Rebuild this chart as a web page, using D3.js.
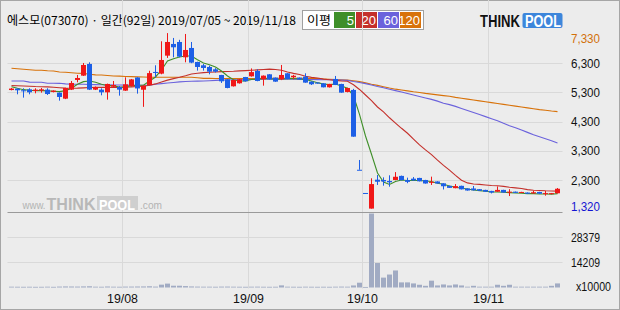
<!DOCTYPE html>
<html>
<head>
<meta charset="utf-8">
<script src="https://cdn.jsdelivr.net/npm/d3@7/dist/d3.min.js"></script>
<style>
  body { margin: 0; background: #ececec; }
  svg { display: block; }
</style>
</head>
<body>
<svg width="620" height="310"></svg>
<script>
// 92 trading days, 2019/07/05 ~ 2019/11/18
var days = [
  "07/05","07/08","07/09","07/10","07/11","07/12","07/15","07/16","07/17","07/18","07/19",
  "07/22","07/23","07/24","07/25","07/26","07/29","07/30","07/31",
  "08/01","08/02","08/05","08/06","08/07","08/08","08/09","08/12","08/13","08/14","08/16",
  "08/19","08/20","08/21","08/22","08/23","08/26","08/27","08/28","08/29","08/30",
  "09/02","09/03","09/04","09/05","09/06","09/09","09/10","09/11","09/16","09/17","09/18",
  "09/19","09/20","09/23","09/24","09/25","09/26","09/27","09/30",
  "10/01","10/02","10/04","10/07","10/08","10/10","10/11","10/14","10/15","10/16","10/17",
  "10/18","10/21","10/22","10/23","10/24","10/25","10/28","10/29","10/30","10/31",
  "11/01","11/04","11/05","11/06","11/07","11/08","11/11","11/12","11/13","11/14","11/15","11/18"
];

var open = [5380,5428,5371,5405,5348,5360,5394,5314,5290,5085,
  5394,5725,5873,6273,5394,5394,5302,5496,5485,5360,
  5515,5810,5390,5548,6000,5942,6558,6958,7026,6501,
  6821,6341,6227,6170,6090,5896,5748,5508,5611,5827,
  5850,6033,5748,5919,5805,5748,5953,5820,5805,5839,
  5668,5634,5611,5474,5759,5588,5314,5383,2650,1855,
  1320,2310,2300,2266,2300,2440,2295,2345,2370,2300,
  2222,2250,2186,2100,2020,2100,2010,2010,1985,1960,
  1925,1900,1960,1885,1900,1862,1870,1840,1890,1835,
  1815,1845];
var high = [5450,5440,5440,5440,5440,5450,5440,5370,5300,5460,
  5690,5896,6307,6330,5500,5440,5600,5690,5520,5816,
  5760,5820,5540,6040,6227,7049,7330,7164,7100,7300,
  7026,6350,6273,6216,6130,5900,5750,5730,5760,5830,
  6120,6090,5880,5925,5810,6239,5960,5900,5810,5953,
  5680,5650,5620,5595,5862,5595,5460,5420,2985,1855,
  2358,2470,2390,2460,2570,2450,2380,2400,2375,2305,
  2414,2255,2190,2105,2160,2105,2015,2094,1990,1965,
  1930,2080,1965,1985,1905,1895,1875,1930,1895,1923,
  1855,2025];
var low = [5370,5234,5120,5234,5268,5290,5211,5300,5017,5070,
  5380,5645,5860,5380,5380,5200,5051,5470,5188,5350,
  5500,5257,4805,5540,5816,5920,6479,6501,6500,6330,
  6300,6045,6045,5919,5980,5622,5440,5500,5600,5670,
  5840,5680,5530,5740,5660,5720,5750,5750,5740,5630,
  5554,5600,5470,5465,5550,5285,5300,3780,2650,1855,
  1320,2130,2105,2070,2290,2290,2190,2280,2250,2175,
  2129,2175,1975,2025,2015,1975,1935,1940,1925,1895,
  1840,1895,1865,1750,1855,1855,1825,1835,1825,1763,
  1810,1840];
var close = [5430,5371,5350,5302,5394,5405,5245,5360,5143,5450,
  5622,5793,6238,5394,5485,5302,5588,5554,5394,5576,
  5745,5435,5530,5960,5965,6410,7026,6844,6524,6752,
  6319,6170,6136,6010,6010,5679,5451,5725,5748,5679,
  5995,5691,5873,5748,5668,5896,5759,5870,5748,5634,
  5577,5611,5474,5588,5554,5291,5451,3784,2650,1855,
  2160,2240,2250,2220,2410,2295,2235,2285,2255,2180,
  2236,2180,2085,2030,2090,1980,1940,1945,1930,1900,
  1870,1960,1870,1900,1860,1890,1830,1880,1830,1850,
  1850,2000];
var volume = [450,420,400,420,380,400,450,380,520,600,
  560,520,620,700,450,420,560,450,420,500,
  520,560,600,700,500,1600,2200,1000,1000,800,
  600,500,450,450,420,500,520,450,420,400,
  450,480,420,400,420,1200,450,420,400,450,
  420,400,420,400,450,500,450,1150,2700,300,
  41700,13800,5570,7300,9600,2880,2880,2300,1550,950,
  3850,1150,1720,1150,1720,1150,450,950,450,450,
  450,1550,950,1550,450,450,450,450,450,450,
  950,2300];

// moving averages
var ma5 = [5495,5440,5393,5372,5360,5360,5350,5338,5325,5360,
  5440,5577,5667,5690,5645,5577,5530,5530,5475,5495,
  5530,5543,5543,5690,5828,6067,6376,6455,6512,6547,
  6547,6420,6307,6249,6170,6033,5862,5735,5690,5690,
  5742,5755,5770,5765,5750,5760,5770,5775,5760,5740,
  5690,5633,5588,5564,5588,5520,5440,5180,4546,3806,
  3180,2538,2232,2146,2250,2300,2283,2283,2283,2266,
  2250,2187,2153,2095,2050,2016,1992,1958,1934,1913,
  1889,1889,1879,1866,1855,1845,1832,1832,1821,1821,
  1810,1832];
var ma20 = [5530,5525,5520,5510,5500,5495,5490,5475,5460,5445,
  5440,5445,5455,5465,5470,5470,5470,5470,5472,5478,
  5490,5500,5510,5543,5590,5656,5720,5770,5817,5870,
  5930,5955,5975,5990,5999,6010,6015,6022,6035,6045,
  6057,6070,6085,6095,6085,6060,6000,5950,5910,5855,
  5815,5790,5755,5735,5710,5690,5680,5560,5400,5210,
  5020,4800,4630,4430,4250,4070,3900,3700,3500,3330,
  3170,2980,2800,2640,2460,2290,2200,2163,2150,2130,
  2110,2100,2080,2050,2030,2010,1970,1950,1940,1930,
  1925,1920];
var ma60 = [5690,5690,5688,5650,5648,5646,5612,5612,5610,5590,
  5580,5577,5577,5570,5565,5560,5560,5555,5555,5550,
  5545,5545,5545,5550,5580,5600,5622,5640,5660,5675,
  5680,5685,5690,5700,5712,5720,5725,5730,5735,5740,
  5742,5745,5748,5750,5750,5750,5750,5748,5745,5742,
  5740,5738,5735,5730,5725,5720,5710,5670,5640,5600,
  5550,5500,5460,5410,5360,5310,5260,5211,5160,5110,
  5060,5000,4930,4880,4820,4750,4680,4610,4540,4470,
  4400,4330,4240,4160,4090,4010,3930,3850,3780,3710,
  3640,3570];
var ma120 = [6126,6110,6092,6075,6060,6057,6040,6033,6000,5989,
  5970,5955,5950,5920,5900,5896,5880,5862,5855,5845,
  5838,5830,5825,5817,5817,5817,5817,5817,5817,5817,
  5817,5800,5780,5778,5776,5775,5775,5775,5775,5775,
  5775,5776,5778,5780,5783,5783,5783,5783,5783,5780,
  5775,5770,5760,5750,5740,5730,5720,5700,5668,5625,
  5580,5540,5495,5450,5410,5380,5350,5320,5295,5265,
  5240,5215,5190,5165,5130,5100,5070,5040,5010,4980,
  4950,4920,4890,4860,4830,4800,4770,4740,4710,4690,
  4660,4640];

var priceTicks = [7330, 6300, 5300, 4300, 3300, 2300, 1320];
var priceGrid = [6300, 5300, 4300, 3300, 2300];
var volTicks = [28379, 14209];
var monthDays = ["08/01", "09/02", "10/01", "11/01"];
var monthLabels = ["19/08", "19/09", "19/10", "19/11"];

var title = "에스모(073070) · 일간(92일) 2019/07/05 ~ 2019/11/18";
var maNames = ["5", "20", "60", "120"];
var maColors = ["#3f8f29", "#c4302b", "#6b62dc", "#d8720a"];
var upColor = "#f01818", downColor = "#1d5fe6";

var svg = d3.select("svg"),
    left = 7.5, right = 562.5, top = 30.5, bottom = 288.5, split = 212.5;

var x = d3.scaleBand().domain(days).range([8.5, 560.5]).paddingInner(1 / 6).paddingOuter(1 / 12);
var y = d3.scaleLinear().domain([1320, 7330]).range([208.6, 33.1]);
var yv = d3.scaleLinear().domain([0, 42568]).range([287.5, 212]);
var bw = x.bandwidth(), step = x.step();
var cx = function(i) { return x(days[i]) + bw / 2; };

// outer frame
svg.append("rect").attr("x", 0.5).attr("y", 0.5).attr("width", 619).attr("height", 309)
    .attr("fill", "#ececec").attr("stroke", "#a6a6a6");

// plot background
svg.append("rect").attr("x", left).attr("y", top)
    .attr("width", right - left).attr("height", bottom - top).attr("fill", "#fff");

// header title
svg.append("text").attr("x", 7).attr("y", 25)
    .attr("font-family", "'Noto Sans CJK KR', sans-serif").attr("font-size", 12)
    .attr("textLength", 289).attr("lengthAdjust", "spacingAndGlyphs")
    .attr("fill", "#000").text(title);

// legend box
var lg = svg.append("g");
lg.append("rect").attr("x", 302.5).attr("y", 10.5).attr("width", 121).attr("height", 19)
    .attr("fill", "#fff").attr("stroke", "#a0a0a0");
lg.append("text").attr("x", 307).attr("y", 25)
    .attr("font-family", "'Noto Sans CJK KR', sans-serif").attr("font-size", 12)
    .attr("textLength", 24).attr("lengthAdjust", "spacingAndGlyphs")
    .text("이평");
var lx = [334, 356, 378, 400];
maNames.forEach(function(n, k) {
  lg.append("rect").attr("x", lx[k]).attr("y", 12).attr("width", 21).attr("height", 16)
      .attr("fill", maColors[k]);
  lg.append("text").attr("x", lx[k] + 20).attr("y", 25)
      .attr("text-anchor", "end").attr("fill", "#fff")
      .attr("font-family", "'Liberation Sans', Arial, sans-serif").attr("font-size", 13)
      .text(n);
});

// THINKPOOL logo
svg.append("text").attr("x", 480).attr("y", 27)
    .attr("font-family", "'Liberation Sans', Arial, sans-serif").attr("font-weight", "bold")
    .attr("font-size", 16).attr("textLength", 40).attr("lengthAdjust", "spacingAndGlyphs")
    .attr("fill", "#111").text("THINK");
svg.append("rect").attr("x", 522.5).attr("y", 13).attr("width", 40).attr("height", 15)
    .attr("rx", 2).attr("fill", "#3d86db");
svg.append("text").attr("x", 525).attr("y", 27)
    .attr("font-family", "'Liberation Sans', Arial, sans-serif").attr("font-weight", "bold")
    .attr("font-size", 16).attr("textLength", 36).attr("lengthAdjust", "spacingAndGlyphs")
    .attr("fill", "#fff").text("POOL");

// grid
var grid = svg.append("g").attr("stroke", "#d9d9d9").attr("stroke-width", 1);
priceGrid.forEach(function(v) {
  var yy = Math.round(y(v)) + 0.5;
  grid.append("line").attr("x1", left).attr("x2", right).attr("y1", yy).attr("y2", yy);
});
volTicks.forEach(function(v) {
  var yy = Math.round(yv(v)) + 0.5;
  grid.append("line").attr("x1", left).attr("x2", right).attr("y1", yy).attr("y2", yy);
});
monthDays.forEach(function(d) {
  var xx = x(d) - step * (1 / 6) / 2;
  grid.append("line").attr("x1", xx).attr("x2", xx).attr("y1", top).attr("y2", bottom);
});

// watermark
var wm = svg.append("g").attr("font-family", "'Liberation Sans', Arial, sans-serif");
wm.append("text").attr("x", 22.5).attr("y", 209).attr("font-size", 11).attr("fill", "#b3b3b3")
    .attr("textLength", 23).attr("lengthAdjust", "spacingAndGlyphs").text("www.");
wm.append("text").attr("x", 46.5).attr("y", 209.5).attr("font-size", 16).attr("font-weight", "bold")
    .attr("fill", "#b8b8b8").attr("textLength", 49).attr("lengthAdjust", "spacingAndGlyphs").text("THINK");
wm.append("rect").attr("x", 97).attr("y", 196).attr("width", 41).attr("height", 14).attr("fill", "#cfcfcf");
wm.append("text").attr("x", 99).attr("y", 209.5).attr("font-size", 14).attr("font-weight", "bold")
    .attr("fill", "#fff").attr("textLength", 36).attr("lengthAdjust", "spacingAndGlyphs").text("POOL");
wm.append("text").attr("x", 140).attr("y", 209).attr("font-size", 11).attr("fill", "#b3b3b3")
    .attr("textLength", 22).attr("lengthAdjust", "spacingAndGlyphs").text(".com");

// panel borders
svg.append("rect").attr("x", left).attr("y", top).attr("width", right - left).attr("height", bottom - top)
    .attr("fill", "none").attr("stroke", "#9a9a9a");
svg.append("line").attr("x1", left).attr("x2", right).attr("y1", split).attr("y2", split)
    .attr("stroke", "#9a9a9a");

// volume bars
svg.append("g").selectAll("rect").data(volume).enter().append("rect")
    .attr("x", function(d, i) { return x(days[i]); })
    .attr("y", function(d) { return yv(d); })
    .attr("width", bw)
    .attr("height", function(d) { return Math.max(0.8, 287.5 - yv(d)); })
    .attr("fill", "#a1abc3");

// moving averages
var mas = [ma120, ma60, ma20, ma5];
var mcol = [maColors[3], maColors[2], maColors[1], maColors[0]];
var line = d3.line().x(function(d, i) { return cx(i); }).y(function(d) { return y(d); });
mas.forEach(function(m, k) {
  svg.append("path").datum(m).attr("fill", "none").attr("stroke", mcol[k])
      .attr("stroke-width", 1.1).attr("d", line);
});

// candles
function color(i) {
  if (close[i] > open[i]) return upColor;
  if (close[i] < open[i]) return downColor;
  return (i > 0 && close[i] < close[i - 1]) ? downColor : upColor;
}
var cg = svg.append("g");
days.forEach(function(d, i) {
  var c = color(i);
  cg.append("line").attr("x1", Math.floor(cx(i)) + 0.5).attr("x2", Math.floor(cx(i)) + 0.5)
      .attr("y1", y(high[i])).attr("y2", y(low[i])).attr("stroke", c);
  var y0 = y(Math.max(open[i], close[i])), y1 = y(Math.min(open[i], close[i]));
  cg.append("rect").attr("x", x(d)).attr("y", y0).attr("width", bw)
      .attr("height", Math.max(1, y1 - y0)).attr("fill", c);
});

// right labels
var lab = svg.append("g").attr("font-family", "'Liberation Sans', Arial, sans-serif").attr("font-size", 13);
var fmt = d3.format(",");
priceTicks.forEach(function(v, k) {
  var yy = Math.min(206.7, Math.max(38.3, y(v)));
  var fill = k === 0 ? "#d2700a" : (k === priceTicks.length - 1 ? "#1414d2" : "#111");
  lab.append("text").attr("x", 571).attr("y", yy).attr("dy", "0.36em").attr("fill", fill)
      .attr("textLength", 29).attr("lengthAdjust", "spacingAndGlyphs").text(fmt(v));
});
volTicks.forEach(function(v) {
  lab.append("text").attr("x", 571).attr("y", yv(v)).attr("dy", "0.36em").attr("fill", "#111")
      .attr("textLength", 29).attr("lengthAdjust", "spacingAndGlyphs").text(v);
});
lab.append("text").attr("x", 576).attr("y", 286).attr("dy", "0.36em").attr("fill", "#111")
    .attr("textLength", 35).attr("lengthAdjust", "spacingAndGlyphs").text("x10000");

// month labels
monthDays.forEach(function(d, k) {
  lab.append("text").attr("x", x(d) - step * (1 / 6) / 2).attr("y", 298).attr("dy", "0.36em")
      .attr("text-anchor", "middle").attr("fill", "#111")
      .attr("textLength", 31).attr("lengthAdjust", "spacingAndGlyphs").text(monthLabels[k]);
});
</script>
</body>
</html>
